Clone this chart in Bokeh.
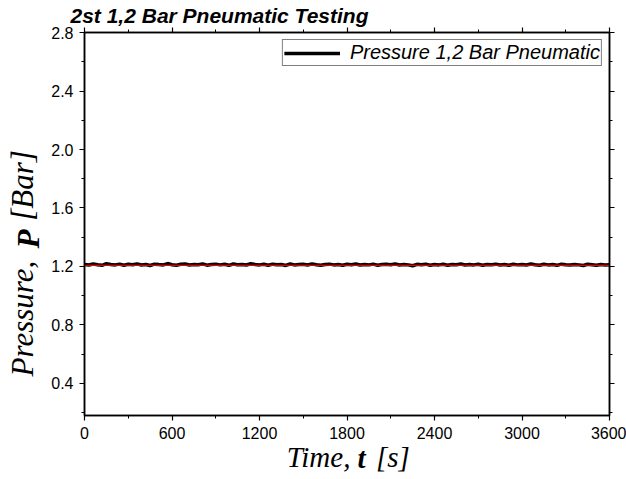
from bokeh.plotting import figure
from bokeh.models import (LinearAxis, SingleIntervalTicker, FixedTicker, NumeralTickFormatter,
                          Legend, LegendItem, Range1d, Title)
from bokeh.embed import file_html
from bokeh.resources import INLINE

# ---- data -------------------------------------------------------------
time_s = list(range(0, 3601, 30))
pressure_bar = [
    1.214, 1.210, 1.217, 1.212, 1.208, 1.219, 1.213, 1.211, 1.216, 1.209,
    1.215, 1.212, 1.218, 1.210, 1.214, 1.207, 1.216, 1.213, 1.211, 1.220,
    1.212, 1.209, 1.215, 1.217, 1.210, 1.214, 1.212, 1.218, 1.209, 1.213,
    1.216, 1.211, 1.215, 1.208, 1.217, 1.212, 1.214, 1.210, 1.219, 1.213,
    1.211, 1.215, 1.209, 1.216, 1.212, 1.214, 1.207, 1.217, 1.211, 1.213,
    1.215, 1.210, 1.218, 1.212, 1.209, 1.214, 1.216, 1.211, 1.213, 1.208,
    1.215, 1.212, 1.217, 1.210, 1.214, 1.211, 1.216, 1.209, 1.213, 1.215,
    1.212, 1.218, 1.210, 1.214, 1.211, 1.205, 1.215, 1.212, 1.216, 1.209,
    1.213, 1.211, 1.215, 1.208, 1.214, 1.212, 1.217, 1.210, 1.213, 1.211,
    1.215, 1.209, 1.214, 1.212, 1.216, 1.210, 1.213, 1.208, 1.215, 1.211,
    1.214, 1.210, 1.217, 1.212, 1.209, 1.215, 1.211, 1.213, 1.208, 1.216,
    1.212, 1.210, 1.214, 1.211, 1.207, 1.215, 1.212, 1.209, 1.213, 1.211,
    1.212,
]
ref_time_s = [0, 3600]
ref_pressure_bar = [1.208, 1.208]

title_text = "2st 1,2 Bar Pneumatic Testing"
legend_text = "Pressure 1,2 Bar Pneumatic"
x_title_parts = ["Time,", "t", "[s]"]          # "t" is bold
y_title_parts = ["Pressure,", "P", "[Bar]"]    # "P" is bold

X0, X1 = 0, 3600
Y0, Y1 = 0.181, 2.8001

# ---- figure -----------------------------------------------------------
p = figure(width=626, height=479, output_backend="svg", toolbar_location=None,
           x_range=Range1d(X0, X1), y_range=Range1d(Y0, Y1),
           x_axis_type=None, y_axis_type=None,
           min_border_left=84, min_border_right=17,
           min_border_top=32, min_border_bottom=64)
p.background_fill_color = "white"
p.border_fill_color = "white"
p.outline_line_color = "black"
p.outline_line_width = 1.5
p.xgrid.visible = False
p.ygrid.visible = False

SANS = "Liberation Sans"
SERIF = "Liberation Serif"


def style_axis(ax, show_labels, standoff=6):
    ax.axis_line_color = "black"
    ax.axis_line_width = 1.5
    ax.major_tick_line_color = "black"
    ax.minor_tick_line_color = "black"
    ax.major_tick_line_width = 1.2
    ax.minor_tick_line_width = 1.0
    ax.major_tick_in = 0
    ax.major_tick_out = 5
    ax.minor_tick_in = 0
    ax.minor_tick_out = 3
    ax.major_label_text_font = SANS
    ax.major_label_text_color = "black"
    ax.major_label_standoff = standoff
    ax.major_label_text_font_size = "16px"
    if not show_labels:
        ax.major_label_text_color = None
        ax.major_label_text_font_size = "1px"
        ax.major_label_standoff = 0


def title_axis(ax, bold, standoff, size):
    ax.axis_line_color = None
    ax.major_tick_line_color = None
    ax.minor_tick_line_color = None
    ax.major_tick_in = 0
    ax.major_tick_out = 0
    ax.minor_tick_in = 0
    ax.minor_tick_out = 0
    ax.major_label_text_font = SERIF
    ax.major_label_text_font_style = "bold italic" if bold else "italic"
    ax.major_label_text_font_size = size
    ax.major_label_text_color = "black"
    ax.major_label_standoff = standoff


xb = LinearAxis(ticker=SingleIntervalTicker(interval=600, num_minor_ticks=2))
style_axis(xb, True, standoff=6)
p.add_layout(xb, "below")
xt = LinearAxis(ticker=SingleIntervalTicker(interval=600, num_minor_ticks=2))
style_axis(xt, False)
p.add_layout(xt, "above")
yl = LinearAxis(ticker=SingleIntervalTicker(interval=0.4, num_minor_ticks=2),
                formatter=NumeralTickFormatter(format="0.0"))
style_axis(yl, True, standoff=6)
p.add_layout(yl, "left")
yr = LinearAxis(ticker=SingleIntervalTicker(interval=0.4, num_minor_ticks=2),
                formatter=NumeralTickFormatter(format="0.0"))
style_axis(yr, False)
p.add_layout(yr, "right")

# axis titles with a bold symbol: two label-only axes sharing one row
XPOS = [1605.0, 1900.0, 2115.0]
xa1 = LinearAxis(ticker=FixedTicker(ticks=[XPOS[0], XPOS[2]]),
                 major_label_overrides={XPOS[0]: x_title_parts[0], XPOS[2]: x_title_parts[2]})
title_axis(xa1, False, -1, "29px")
p.add_layout(xa1, "below")
xa2 = LinearAxis(ticker=FixedTicker(ticks=[XPOS[1]]),
                 major_label_overrides={XPOS[1]: x_title_parts[1]})
title_axis(xa2, True, -34, "29px")
p.add_layout(xa2, "below")

YPOS = [0.844, 1.388, 1.754]
ya1 = LinearAxis(ticker=FixedTicker(ticks=[YPOS[0], YPOS[2]]),
                 major_label_overrides={YPOS[0]: y_title_parts[0], YPOS[2]: y_title_parts[2]},
                 major_label_orientation="vertical")
title_axis(ya1, False, 8, "31px")
p.add_layout(ya1, "left")
ya2 = LinearAxis(ticker=FixedTicker(ticks=[YPOS[1]]),
                 major_label_overrides={YPOS[1]: y_title_parts[1]},
                 major_label_orientation="vertical")
title_axis(ya2, True, -44, "31px")
p.add_layout(ya2, "left")

# ---- series ------------------------------------------------------------
main = p.line(time_s, pressure_bar, line_color="black", line_width=3.5)
p.line(ref_time_s, ref_pressure_bar, line_color="#e00000", line_width=1.2)

legend = Legend(items=[LegendItem(label=legend_text, renderers=[main])],
                location="top_right", margin=7, padding=1,
                glyph_width=56, glyph_height=18, label_standoff=10,
                label_text_font=SANS, label_text_font_style="italic",
                label_text_font_size="20px", label_height=18,
                label_text_color="black",
                border_line_color="black", border_line_width=1,
                background_fill_color="white", background_fill_alpha=1)
p.add_layout(legend, "center")

# ---- title -------------------------------------------------------------
p.add_layout(Title(text=title_text, align="left", offset=-14, standoff=2,
                   text_font=SANS, text_font_style="bold italic",
                   text_font_size="21px", text_color="black"), "above")

open("out.html", "w").write(file_html(p, INLINE))
